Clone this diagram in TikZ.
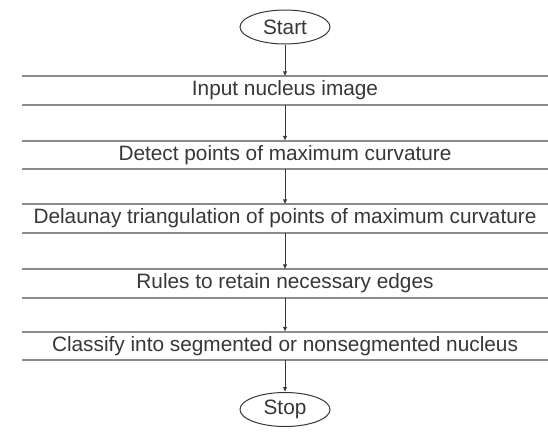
\documentclass[tikz,border=0pt]{standalone}
\usepackage{fontspec}
\setmainfont{Liberation Sans}
\usetikzlibrary{shapes.geometric,arrows.meta}

\definecolor{linegray}{RGB}{140,140,140}
\definecolor{textgray}{RGB}{55,55,55}

\tikzset{
	terminal/.style={ellipse, draw=textgray, line width=1pt, minimum width=90pt, minimum height=34pt, inner sep=0pt, text=textgray},
	stepbox/.style={rectangle, minimum width=526pt, minimum height=28pt, inner sep=0pt, text=textgray},
	rule/.style={draw=linegray, line width=2pt},
	flow/.style={draw=textgray, line width=0.9pt, -{Latex[length=5pt,width=4.5pt]}}
}

\begin{document}
\begin{tikzpicture}[x=1pt, y=-1pt, font=\fontsize{20.8}{24}\selectfont]
		\useasboundingbox (0,0) rectangle (548,431);

		%% Terminals
		\node[terminal] (start) at (285,27) {Start};
		\node[terminal] (stop) at (285,409.5) {Stop};

		%% Steps
		\node[stepbox] (input) at (285,90.5) {Input nucleus image};
		\node[stepbox] (detect) at (285,155) {Detect points of maximum curvature};
		\node[stepbox] (delaunay) at (285,218.5) {Delaunay triangulation of points of maximum curvature};
		\node[stepbox] (rules) at (285,283.5) {Rules to retain necessary edges};
		\node[stepbox] (classify) at (285,346) {Classify into segmented or nonsegmented nucleus};

		% top and bottom rules of each step
		\foreach \s in {input,detect,delaunay,rules,classify} {
			\draw[rule] (\s.north west) -- (\s.north east);
			\draw[rule] (\s.south west) -- (\s.south east);
		}

		%% Arrows
		\draw[flow] (start) -- (input);
		\draw[flow] (input) -- (detect);
		\draw[flow] (detect) -- (delaunay);
		\draw[flow] (delaunay) -- (rules);
		\draw[flow] (rules) -- (classify);
		\draw[flow] (classify) -- (stop);
	\end{tikzpicture}
\end{document}
